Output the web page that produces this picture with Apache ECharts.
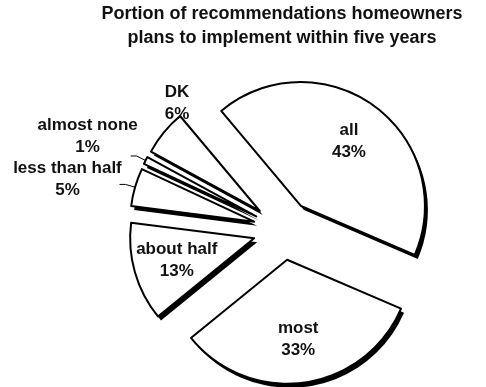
<!DOCTYPE html>
<html>
<head>
<meta charset="utf-8">
<script src="https://cdn.jsdelivr.net/npm/echarts@6/dist/echarts.min.js"></script>
<style>
  html, body { margin: 0; padding: 0; background: #fff; }
  #chart { width: 486px; height: 387px; }
</style>
</head>
<body>
<div id="chart"></div>
<script>
// Chart text and values
const titleLines = ['Portion of recommendations homeowners', 'plans to implement within five years'];
const categories = ['all', 'most', 'about half', 'less than half', 'almost none', 'DK'];
const shares = [43, 33, 13, 5, 1, 6];
// Slices whose label sits inside the wedge
const insideCategories = ['all', 'most', 'about half'];
// Slices whose label has no leader line
const noLeaderCategories = ['DK'];

// Nudges (px) applied to the outside labels after the default pie layout
const outsideLabelNudge = {
  'DK': [32, -23],
  'less than half': [-47, -5],
  'almost none': [-38, -20]
};

const FONT = '"Liberation Sans", Arial, sans-serif';
const center = [283, 230];
const radius = 124;
const explode = 30;
const startAngle = 130;

const labelText = p => p.name + '\n' + p.value + '%';
const baseLabel = {
  fontFamily: FONT, fontWeight: 'bold', fontSize: 17, lineHeight: 22, color: '#111'
};

function sliceData(build) {
  return categories.map((name, i) => Object.assign({ name, value: shares[i], selected: true }, build(name, i)));
}

const commonPie = {
  type: 'pie',
  radius: radius,
  startAngle: startAngle,
  clockwise: true,
  selectedMode: 'multiple',
  selectedOffset: explode,
  avoidLabelOverlap: false,
  animation: false,
  emphasis: { disabled: true },
};

const chart = echarts.init(document.getElementById('chart'), null, { renderer: 'canvas' });
chart.setOption({
  backgroundColor: '#fff',
  title: {
    text: titleLines.join('\n'),
    left: 282,
    top: 2,
    padding: 0,
    textAlign: 'center',
    textStyle: { fontFamily: FONT, fontWeight: 'bold', fontSize: 18, lineHeight: 24, color: '#111' }
  },
  series: [
    // dark drop shadow under every wedge
    Object.assign({}, commonPie, {
      name: 'shadow',
      z: 1,
      silent: true,
      center: [center[0] + 3, center[1] + 4],
      label: { show: false },
      labelLine: { show: false },
      itemStyle: { color: '#000', borderWidth: 0 },
      select: { itemStyle: { color: '#000', borderWidth: 0 } },
      data: sliceData(() => ({}))
    }),
    // white wedges with black outline; small slices labelled outside
    Object.assign({}, commonPie, {
      name: 'share',
      z: 2,
      center: center,
      itemStyle: { color: '#fff', borderColor: '#000', borderWidth: 2 },
      select: { itemStyle: { color: '#fff', borderColor: '#000', borderWidth: 2 } },
      label: Object.assign({ show: true, position: 'outside', formatter: labelText }, baseLabel),
      labelLine: { show: true, length: 10, length2: 6, lineStyle: { color: '#000', width: 1 } },
      labelLayout: function (p) {
        const nudge = outsideLabelNudge[categories[p.dataIndex]];
        if (!nudge) return { hideOverlap: false };
        return { hideOverlap: false, dx: nudge[0], dy: nudge[1], align: 'center' };
      },
      data: sliceData(name => {
        if (insideCategories.includes(name)) return { label: { show: false }, labelLine: { show: false } };
        if (noLeaderCategories.includes(name)) return { labelLine: { show: false } };
        return {};
      })
    }),
    // transparent wider ring that carries the inside labels
    Object.assign({}, commonPie, {
      name: 'inside labels',
      z: 3,
      silent: true,
      center: center,
      radius: radius * 1.25,
      itemStyle: { color: 'rgba(0,0,0,0)', borderWidth: 0 },
      select: { itemStyle: { color: 'rgba(0,0,0,0)', borderWidth: 0 } },
      label: Object.assign({ show: true, position: 'inside', formatter: labelText }, baseLabel),
      labelLine: { show: false },
      data: sliceData(name => insideCategories.includes(name) ? {} : { label: { show: false } })
    })
  ]
});
</script>
</body>
</html>
